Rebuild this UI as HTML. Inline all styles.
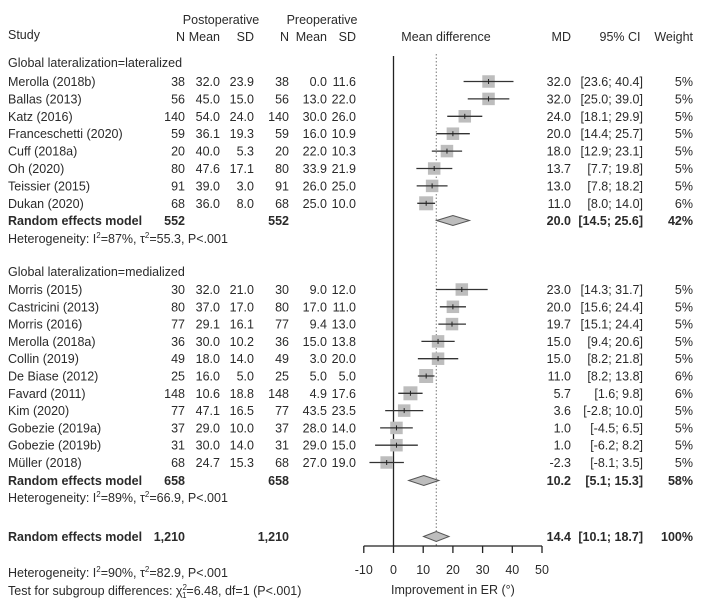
<!DOCTYPE html>
<html><head><meta charset="utf-8"><style>
html,body{margin:0;padding:0;background:#fff}
svg{display:block;font-family:"Liberation Sans","DejaVu Sans",sans-serif;font-size:12.5px;fill:#2a2a2a}
.b{font-weight:bold}
.s{font-size:12.5px}
</style></head><body>
<svg id="chart" width="721" height="614" viewBox="0 0 721 614">
<g>
<text x="8" y="39">Study</text>
<text x="221" y="24" text-anchor="middle">Postoperative</text>
<text x="322" y="24" text-anchor="middle">Preoperative</text>
<text x="185" y="41" text-anchor="end">N</text><text x="220" y="41" text-anchor="end">Mean</text><text x="254" y="41" text-anchor="end">SD</text>
<text x="289" y="41" text-anchor="end">N</text><text x="327" y="41" text-anchor="end">Mean</text><text x="356" y="41" text-anchor="end">SD</text>
<text x="446" y="41" text-anchor="middle">Mean difference</text>
<text x="571" y="41" text-anchor="end">MD</text>
<text x="620" y="41" text-anchor="middle">95% CI</text>
<text x="693" y="41" text-anchor="end">Weight</text>
</g>
<g id="rows"></g>
<g id="plot"></g>
</svg>
<script>
const names1=["Merolla (2018b)","Ballas (2013)","Katz (2016)","Franceschetti (2020)","Cuff (2018a)","Oh (2020)","Teissier (2015)","Dukan (2020)"];
const postN1=[38,56,140,59,20,80,91,68];
const postM1=["32.0","45.0","54.0","36.1","40.0","47.6","39.0","36.0"];
const postSD1=["23.9","15.0","24.0","19.3","5.3","17.1","3.0","8.0"];
const preN1=[38,56,140,59,20,80,91,68];
const preM1=["0.0","13.0","30.0","16.0","22.0","33.9","26.0","25.0"];
const preSD1=["11.6","22.0","26.0","10.9","10.3","21.9","25.0","10.0"];
const md1=[32.0,32.0,24.0,20.0,18.0,13.7,13.0,11.0];
const lo1=[23.6,25.0,18.1,14.4,12.9,7.7,7.8,8.0];
const hi1=[40.4,39.0,29.9,25.7,23.1,19.8,18.2,14.0];
const w1=[5,5,5,5,5,5,5,6];
const names2=["Morris (2015)","Castricini (2013)","Morris (2016)","Merolla (2018a)","Collin (2019)","De Biase (2012)","Favard (2011)","Kim (2020)","Gobezie (2019a)","Gobezie (2019b)","Müller (2018)"];
const postN2=[30,80,77,36,49,25,148,77,37,31,68];
const postM2=["32.0","37.0","29.1","30.0","18.0","16.0","10.6","47.1","29.0","30.0","24.7"];
const postSD2=["21.0","17.0","16.1","10.2","14.0","5.0","18.8","16.5","10.0","14.0","15.3"];
const preN2=[30,80,77,36,49,25,148,77,37,31,68];
const preM2=["9.0","17.0","9.4","15.0","3.0","5.0","4.9","43.5","28.0","29.0","27.0"];
const preSD2=["12.0","11.0","13.0","13.8","20.0","5.0","17.6","23.5","14.0","15.0","19.0"];
const md2=[23.0,20.0,19.7,15.0,15.0,11.0,5.7,3.6,1.0,1.0,-2.3];
const lo2=[14.3,15.6,15.1,9.4,8.2,8.2,1.6,-2.8,-4.5,-6.2,-8.1];
const hi2=[31.7,24.4,24.4,20.6,21.8,13.8,9.8,10.0,6.5,8.2,3.5];
const w2=[5,5,5,5,5,6,6,5,5,5,5];
const summMD=[20.0,10.2,14.4];
const summLo=[14.5,5.1,10.1];
const summHi=[25.6,15.3,18.7];
const summW=["42%","58%","100%"];
const summN=["552","658","1,210"];
const ticks=[-10,0,10,20,30,40,50];

const NS="http://www.w3.org/2000/svg";
const X0=393.5, PX=2.97;
const xs=v=>X0+v*PX;
const rowsG=document.getElementById('rows'), plotG=document.getElementById('plot');
function el(tag,attrs,parent,txt){const e=document.createElementNS(NS,tag);for(const k in attrs)e.setAttribute(k,attrs[k]);if(txt!==undefined)e.textContent=txt;parent.appendChild(e);return e;}
function txt(x,y,s,anchor,cls,parent,name){const e=el('text',{x:x,y:y,'text-anchor':anchor||'start',class:cls||''},parent||rowsG,s);

return e;}
function ci(a,b){return "["+a.toFixed(1)+"; "+b.toFixed(1)+"]";}
function studyRow(y,n,pn,pm,ps,qn,qm,qs,m,l,h,w){
  const g=el('g',{},rowsG);
  
  
  txt(8,y,n,'start','',g,'study-name');
  txt(185,y,pn,'end','',g,'post-n');txt(220,y,pm,'end','',g,'post-mean');txt(254,y,ps,'end','',g,'post-sd');
  txt(289,y,qn,'end','',g,'pre-n');txt(327,y,qm,'end','',g,'pre-mean');txt(356,y,qs,'end','',g,'pre-sd');
  txt(571,y,m.toFixed(1),'end','',g,'md-value');
  txt(643,y,ci(l,h),'end','',g,'ci-value');
  txt(693,y,w+"%",'end','',g,'weight-value');
  const cy=y-4.5, sz=w>5?14:12.5;
  const r=el('rect',{x:xs(m)-sz/2,y:cy-sz/2,width:sz,height:sz,fill:'#bdbdbd'},plotG);
  
  
  const ln=el('line',{x1:xs(l),x2:xs(h),y1:cy,y2:cy,stroke:'#333','stroke-width':1.3},plotG);
  
  
  const t=el('line',{x1:xs(m),x2:xs(m),y1:cy-2.5,y2:cy+2.5,stroke:'#222','stroke-width':1},plotG);
  
  
}
function diamond(y,i){
  const cy=y-4.5;
  const d=el('polygon',{points:`${xs(summLo[i])},${cy} ${xs(summMD[i])},${cy-5} ${xs(summHi[i])},${cy} ${xs(summMD[i])},${cy+5}`,fill:'#bdbdbd',stroke:'#555','stroke-width':1},plotG);
  
  
}
function summaryRow(y,i){
  txt(8,y,"Random effects model",'start','b',rowsG,'summary-label');
  txt(185,y,summN[i],'end','b',rowsG,'summary-post-n');
  txt(289,y,summN[i],'end','b',rowsG,'summary-pre-n');
  txt(571,y,summMD[i].toFixed(1),'end','b',rowsG,'summary-md');
  txt(643,y,ci(summLo[i],summHi[i]),'end','b',rowsG,'summary-ci');
  txt(693,y,summW[i],'end','b',rowsG,'summary-weight');
  diamond(y,i);
}
function het(y,i2,t2){
  const e=txt(8,y,"",'start','s',rowsG,'heterogeneity-text');
  e.innerHTML=`Heterogeneity: I<tspan dy="-5" font-size="8">2</tspan><tspan dy="5">=${i2}, τ</tspan><tspan dy="-5" font-size="8">2</tspan><tspan dy="5">=${t2}, P&lt;.001</tspan>`;
}
const zl=el('line',{x1:X0,x2:X0,y1:56,y2:546,stroke:'#222','stroke-width':1.3},plotG);

const dl=el('line',{x1:xs(summMD[2]),x2:xs(summMD[2]),y1:54,y2:546,stroke:'#777','stroke-width':1,'stroke-dasharray':'1.5,2'},plotG);


txt(8,67,"Global lateralization=lateralized",'start','',rowsG,'group-header');
names1.forEach((n,i)=>studyRow(86+i*17.4,n,postN1[i],postM1[i],postSD1[i],preN1[i],preM1[i],preSD1[i],md1[i],lo1[i],hi1[i],w1[i]));
summaryRow(225,0);
het(243,"87%","55.3");
txt(8,276,"Global lateralization=medialized",'start','',rowsG,'group-header');
names2.forEach((n,i)=>studyRow(294+i*17.3,n,postN2[i],postM2[i],postSD2[i],preN2[i],preM2[i],preSD2[i],md2[i],lo2[i],hi2[i],w2[i]));
summaryRow(485,1);
het(502,"89%","66.9");
summaryRow(541,2);
het(577,"90%","82.9");
const tt=txt(8,595,"",'start','s',rowsG,'subgroup-test-text');
tt.innerHTML='Test for subgroup differences: χ<tspan dy="-5" font-size="8">2</tspan><tspan dx="-5" dy="8" font-size="8">1</tspan><tspan dy="-3">=6.48, df=1 (P&lt;.001)</tspan>';

const ax=el('g',{},plotG);

el('line',{x1:xs(ticks[0]),x2:xs(ticks[ticks.length-1]),y1:546,y2:546,stroke:'#222','stroke-width':1.3},ax);
ticks.forEach(t=>{
  const l=el('line',{x1:xs(t),x2:xs(t),y1:546,y2:553,stroke:'#222','stroke-width':1.3},ax);
  
  const e=el('text',{x:xs(t),y:574,'text-anchor':'middle'},ax,String(t));
  
});
const at=el('text',{x:xs(20),y:594,'text-anchor':'middle',class:'s'},ax,"Improvement in ER (°)");

</script>
</body></html>
